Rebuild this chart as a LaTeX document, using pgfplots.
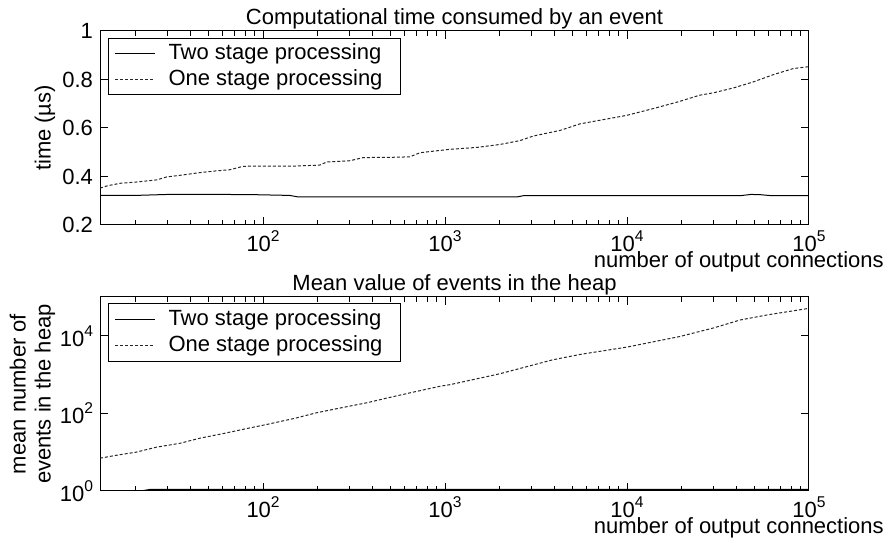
\documentclass[border=0pt]{standalone}
\usepackage{fontspec}
\setmainfont{Liberation Sans}
\usepackage{pgfplots}
\pgfplotsset{compat=1.18}
\newcommand{\sups}[1]{\raisebox{5pt}{\fontsize{7.8}{8}\selectfont #1}}
\tikzset{
  twostage/.style={black, line width=0.5pt},
  onestage/.style={black!85, line width=0.5pt, dash pattern=on 1.5pt off 1pt},
}
\begin{document}
\begin{tikzpicture}
\begin{axis}[at={(50pt,160pt)}, anchor=south west,
    scale only axis,
    width=354.5pt, height=97pt,
    xmode=log, xmin=12.7, xmax=100000,
    font=\fontsize{11}{13}\selectfont,
    axis line style={black, line width=0.5pt},
    tick style={black, line width=0.5pt},
    tick align=inside,
    major tick length=4pt, minor tick length=2.5pt,
    xtick={100,1000,10000,100000},
    xticklabels={10\sups{2},10\sups{3},10\sups{4},10\sups{5}},
    minor xtick={20,30,40,50,60,70,80,90,200,300,400,500,600,700,800,900,2000,3000,4000,5000,6000,7000,8000,9000,20000,30000,40000,50000,60000,70000,80000,90000},
    xticklabel style={anchor=base, yshift=-13.5pt, inner sep=0pt},
    xlabel={number of output connections},
    xlabel style={at={(axis description cs:0.901,0)}, anchor=base, yshift=-21.5pt, inner sep=0pt},
    every axis title shift=0pt,
    title style={at={(axis description cs:0.5,1)}, anchor=base, yshift=3pt},
    legend cell align=left,
    legend style={at={(axis description cs:0,1)}, anchor=north west, xshift=4pt, yshift=-3.5pt,
      draw=black, line width=0.5pt, fill=white, inner xsep=3pt, inner ysep=1pt,
      column sep=6.5pt,
      font=\fontsize{11}{13}\selectfont,
      nodes={inner sep=0pt, text height=9.5pt, text depth=3.5pt}},
    legend image code/.code={\draw[#1] (0pt,0pt) -- (20pt,0pt);},
  ymin=0.2, ymax=1,
  ytick={0.2,0.4,0.6,0.8,1}, yticklabels={0.2,0.4,0.6,0.8,1},
  ylabel={time (µs)},
  ylabel style={at={(axis description cs:-0.0776,0.5)}, anchor=center},
  title={Computational time consumed by an event}]
\addplot[twostage] coordinates {
(12.7,0.322) (20,0.322) (30,0.326) (60,0.326) (90,0.325) (140,0.322) (155,0.316)
(2500,0.316) (2700,0.321) (42000,0.321) (48000,0.326) (54000,0.325) (62000,0.321) (100000,0.321)};
\addlegendentry{Two stage processing\hspace*{6pt}}
\addplot[onestage] coordinates {
(12.7,0.352) (14,0.362) (16.4,0.372) (20,0.377) (26,0.386) (29.5,0.398) (35,0.405)
(45,0.416) (55,0.423) (65.8,0.428) (77.8,0.442) (100,0.443) (150,0.443) (205,0.447)
(224,0.46) (300,0.465) (355,0.478) (500,0.479) (641,0.481) (728,0.498) (900,0.506)
(1064,0.512) (1500,0.52) (2000,0.532) (2582,0.548) (3058,0.567) (4290,0.59) (5510,0.617)
(7100,0.632) (9950,0.652) (13940,0.68) (19540,0.71) (25000,0.735) (29800,0.745)
(38370,0.765) (49400,0.79) (63700,0.82) (81900,0.845) (100000,0.853)};
\addlegendentry{One stage processing\hspace*{6pt}}
\end{axis}
\begin{axis}[at={(50pt,27pt)}, anchor=south west,
    scale only axis,
    width=354.5pt, height=97pt,
    xmode=log, xmin=12.7, xmax=100000,
    font=\fontsize{11}{13}\selectfont,
    axis line style={black, line width=0.5pt},
    tick style={black, line width=0.5pt},
    tick align=inside,
    major tick length=4pt, minor tick length=2.5pt,
    xtick={100,1000,10000,100000},
    xticklabels={10\sups{2},10\sups{3},10\sups{4},10\sups{5}},
    minor xtick={20,30,40,50,60,70,80,90,200,300,400,500,600,700,800,900,2000,3000,4000,5000,6000,7000,8000,9000,20000,30000,40000,50000,60000,70000,80000,90000},
    xticklabel style={anchor=base, yshift=-13.5pt, inner sep=0pt},
    xlabel={number of output connections},
    xlabel style={at={(axis description cs:0.901,0)}, anchor=base, yshift=-21.5pt, inner sep=0pt},
    every axis title shift=0pt,
    title style={at={(axis description cs:0.5,1)}, anchor=base, yshift=3pt},
    legend cell align=left,
    legend style={at={(axis description cs:0,1)}, anchor=north west, xshift=4pt, yshift=-3pt,
      draw=black, line width=0.5pt, fill=white, inner xsep=3pt, inner ysep=1.5pt,
      column sep=6.5pt,
      font=\fontsize{11}{13}\selectfont,
      nodes={inner sep=0pt, text height=9.5pt, text depth=3.5pt}},
    legend image code/.code={\draw[#1] (0pt,0pt) -- (20pt,0pt);},
  ymode=log, ymin=1, ymax=100000,
  ytick={1,100,10000}, yticklabels={10\sups{0},10\sups{2},10\sups{4}},
  yminorticks=false,
  ylabel={mean number of\\events in the heap},
  ylabel style={at={(axis description cs:-0.0952,0.5)}, anchor=center, align=center, font=\fontsize{11}{12.5}\selectfont},
  title={Mean value of events in the heap}]
\addplot[twostage] coordinates {
(12.7,1.03) (22,1.03) (24,1.1) (100000,1.1)};
\addlegendentry{Two stage processing\hspace*{6pt}}
\addplot[onestage] coordinates {
(12.7,7.0) (16,8.5) (20,10) (26,13.5) (35,17) (45,23) (60,30) (80,40) (105,52)
(150,75) (197,104) (270,140) (372,188) (500,260) (645,340) (937,500) (1064,550)
(2000,1050) (3900,2400) (5500,3300) (9950,5100) (19540,9600) (30000,16000)
(41900,25600) (60000,35000) (100000,51000)};
\addlegendentry{One stage processing\hspace*{6pt}}
\end{axis}
\pgfresetboundingbox
\path[use as bounding box] (0,0) rectangle (444pt,272.5pt);
\end{tikzpicture}
\end{document}
